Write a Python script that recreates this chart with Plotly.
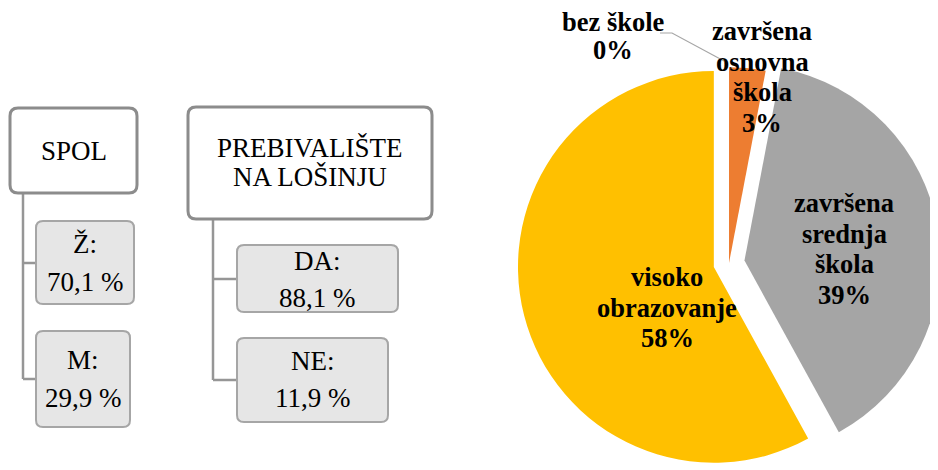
import plotly.graph_objects as go

# --- data -------------------------------------------------------------------
edu_labels = ["bez škole", "završena<br>osnovna<br>škola", "završena<br>srednja<br>škola",
              "visoko<br>obrazovanje"]
edu_values = [0, 3, 39, 58]
edu_colors = ["#4472C4", "#ED7D31", "#A5A5A5", "#FFC000"]
edu_pull = [0, 0, 0.08, 0.08]

spol_cats = ["Ž", "M"]
spol_vals = ["70,1", "29,9"]
preb_cats = ["DA", "NE"]
preb_vals = ["88,1", "11,9"]

W, H = 938, 470
OFF = 8  # page body margin: axes ranges are shifted so data units = page pixels
SERIF = "Liberation Serif"


def rrect(x0, y0, x1, y1, r):
    return (f"M{x0 + r},{y0} L{x1 - r},{y0} Q{x1},{y0} {x1},{y0 + r} "
            f"L{x1},{y1 - r} Q{x1},{y1} {x1 - r},{y1} L{x0 + r},{y1} "
            f"Q{x0},{y1} {x0},{y1 - r} L{x0},{y0 + r} Q{x0},{y0} {x0 + r},{y0} Z")


fig = go.Figure()

# invisible pixel-like axes for the left-hand diagram
fig.add_trace(go.Scatter(x=[OFF, W + OFF], y=[OFF, H + OFF], mode="markers",
                         marker=dict(opacity=0), hoverinfo="skip", showlegend=False))

# pie centre at page (729, 263); half box 211.5 px
cx, cy, half = 729 - OFF, 263 - OFF, 211.5
fig.add_trace(go.Pie(
    labels=edu_labels,
    values=edu_values,
    sort=False,
    direction="clockwise",
    rotation=0,
    pull=edu_pull,
    marker=dict(colors=edu_colors, line=dict(width=0)),
    textinfo="none",
    hoverinfo="label+percent",
    showlegend=False,
    domain=dict(x=[(cx - half) / W, min(1, (cx + half) / W)],
                y=[(H - cy - half) / H, (H - cy + half) / H]),
))

shapes = []
annots = []
tfont = dict(family=SERIF, size=27, color="black")


def header(x0, y0, x1, y1, lines, ys):
    shapes.append(dict(type="path", path=rrect(x0, y0, x1, y1, 8), xref="x", yref="y",
                       line=dict(color="#8C8C8C", width=3), fillcolor="white", layer="below"))
    for t, yy in zip(lines, ys):
        annots.append(dict(x=(x0 + x1) / 2, y=yy, text=t, showarrow=False, xref="x", yref="y",
                           font=tfont))


def child(x0, y0, x1, y1, cat, val, ys):
    shapes.append(dict(type="path", path=rrect(x0, y0, x1, y1, 7), xref="x", yref="y",
                       line=dict(color="#A6A6A6", width=2), fillcolor="#E6E6E6", layer="below"))
    xm = (x0 + x1) / 2
    annots.append(dict(x=xm, y=ys[0], text=f"{cat}:", showarrow=False,
                       xref="x", yref="y", font=tfont))
    annots.append(dict(x=xm, y=ys[1], text=f"{val} %", showarrow=False,
                       xref="x", yref="y", font=tfont))


def connector(x, ytop, ys, xend):
    shapes.append(dict(type="line", x0=x, x1=x, y0=ytop, y1=ys[-1], xref="x", yref="y",
                       line=dict(color="#969696", width=2.5), layer="below"))
    for yy in ys:
        shapes.append(dict(type="line", x0=x, x1=xend, y0=yy, y1=yy, xref="x", yref="y",
                           line=dict(color="#969696", width=2.5), layer="below"))


# SPOL
connector(23, 193, [263, 379], 37)
header(10, 108, 137, 193, ["SPOL"], [151])
child(36, 221, 134, 304, spol_cats[0], spol_vals[0], [244, 282])
child(36, 331, 130, 427, spol_cats[1], spol_vals[1], [360, 398])

# PREBIVALIŠTE
connector(213, 219, [279, 380], 238)
header(188, 107, 432, 219, ["PREBIVALIŠTE", "NA LOŠINJU"], [148, 177])
child(237, 245, 398, 312, preb_cats[0], preb_vals[0], [261, 298])
child(237, 338, 388, 422, preb_cats[1], preb_vals[1], [361, 398])

# pie labels, one annotation per line to keep the tight line spacing
pfont = dict(family=SERIF, size=26.5, color="black")


def pie_label(i, x, y_first, step=30.5):
    lines = edu_labels[i].split("<br>") + [f"{edu_values[i]}%"]
    for k, t in enumerate(lines):
        annots.append(dict(x=x, y=y_first + k * step, text=f"<b>{t}</b>", showarrow=False,
                           xref="x", yref="y", font=pfont))


shapes.append(dict(type="path", path="M660,33 L672,33 L724,61", xref="x", yref="y",
                   line=dict(color="#A6A6A6", width=1.2)))
pie_label(0, 613, 22, 28)
pie_label(1, 762, 31)
pie_label(2, 844, 203)
pie_label(3, 667, 277)

fig.update_xaxes(range=[OFF, W + OFF], visible=False, domain=[0, 1], fixedrange=True)
fig.update_yaxes(range=[H + OFF, OFF], visible=False, domain=[0, 1], fixedrange=True)
fig.update_layout(
    width=W, height=H,
    margin=dict(l=0, r=0, t=0, b=0),
    paper_bgcolor="white", plot_bgcolor="rgba(0,0,0,0)",
    shapes=shapes, annotations=annots,
    showlegend=False,
)
fig.write_html("out.html", config=dict(displayModeBar=False))
